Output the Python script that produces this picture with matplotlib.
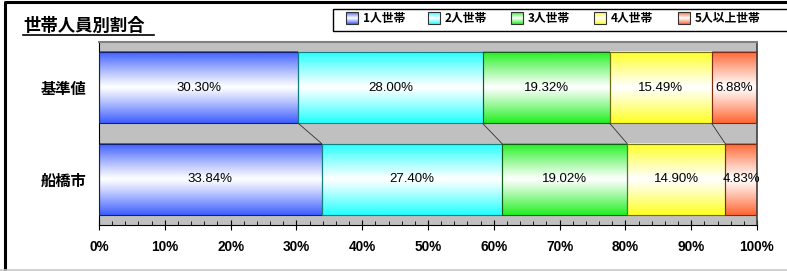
import numpy as np
import matplotlib
matplotlib.use('Agg')
from matplotlib import pyplot as plt
from matplotlib.patches import Rectangle
from matplotlib.colors import to_rgb

plt.rcParams['font.family'] = ['Noto Sans CJK JP', 'DejaVu Sans']

# データ
categories = ['基準値', '船橋市']
series = ['1人世帯', '2人世帯', '3人世帯', '4人世帯', '5人以上世帯']
kijun = [30.30, 28.00, 19.32, 15.49, 6.88]
funabashi = [33.84, 27.40, 19.02, 14.90, 4.83]
xticks = [0, 10, 20, 30, 40, 50, 60, 70, 80, 90, 100]
xtick_labels = ['0%', '10%', '20%', '30%', '40%', '50%', '60%', '70%', '80%', '90%', '100%']

colors = ['#3f5fff', '#22ffff', '#22f022', '#ffff22', '#ff6633']
edges = ['#102070', '#118080', '#116011', '#707011', '#802a10']

W, H = 787, 271


def gradient(color, n=64):
    # 上下が色、中央が白
    t = np.abs(np.linspace(-1, 1, n)) ** 1.1
    c = np.array(to_rgb(color))
    img = (1 - t)[:, None] * 1.0 + t[:, None] * c[None, :]
    return img[:, None, :]


fig = plt.figure(figsize=(W / 100, H / 100), dpi=100)
fig.patch.set_facecolor('white')

ax = fig.add_axes([99 / W, 1 - 225 / H, 658 / W, 183 / H])
ax.set_facecolor('#c0c0c0')

bar_h = 0.78
rows = [kijun, funabashi]
cums = []
for i, vals in enumerate(rows):
    total = sum(vals)
    left = 0.0
    bounds = []
    for j, v in enumerate(vals):
        w = v / total * 100
        top, bot = i - bar_h / 2, i + bar_h / 2
        ax.imshow(gradient(colors[j]), extent=(left, left + w, bot, top),
                  aspect='auto', interpolation='bilinear', zorder=2)
        ax.add_patch(Rectangle((left, top), w, bar_h, fill=False,
                               edgecolor=edges[j], lw=0.8, zorder=3))
        ax.text(left + w / 2, i, f'{v:.2f}%', ha='center', va='center',
                fontsize=9.5, family=['Liberation Sans', 'DejaVu Sans'], zorder=4)
        left += w
        bounds.append(left)
    cums.append(bounds)

# 系列線
for k in range(len(series) - 1):
    ax.plot([cums[0][k], cums[1][k]], [bar_h / 2, 1 - bar_h / 2],
            color='#303030', lw=0.6, zorder=3)

ax.set_xlim(0, 100)
ax.set_ylim(1.5, -0.5)

ax.set_xticks(xticks)
ax.set_xticklabels(xtick_labels, fontweight='bold', fontsize=9.8,
                   family=['Liberation Sans', 'DejaVu Sans'])
ax.set_xticks(np.arange(0, 101, 2), minor=True)
ax.tick_params(axis='x', which='major', direction='inout', length=7, width=0.8, pad=7)
ax.tick_params(axis='x', which='minor', direction='in', length=3, width=0.6)

ax.set_yticks([0, 1])
ax.set_yticklabels(categories, fontweight='bold', fontsize=11)
ax.tick_params(axis='y', length=0, pad=9)

ax.spines['left'].set_color('black')
ax.spines['bottom'].set_color('black')
ax.spines['top'].set_color('#808080')
ax.spines['top'].set_linewidth(1.5)
ax.spines['right'].set_color('#404040')
ax.spines['right'].set_linewidth(1.2)

# 枠・タイトル・凡例 (ピクセル座標)
ov = fig.add_axes([0, 0, 1, 1])
ov.axis('off')
ov.patch.set_alpha(0)

ov.plot([5, 5, W], [H, 1.5, 1.5], color='black', lw=2.2, solid_capstyle='butt')
ov.plot([0, W], [269.5, 269.5], color='#c8c8c8', lw=1.2)

ov.text(23, 31, '世帯人員別割合', fontsize=12.5, fontweight='bold', va='baseline', ha='left')
ov.plot([23, 154], [35, 35], color='black', lw=1.2)

ov.add_patch(Rectangle((333, 9), 470, 22, facecolor='white', edgecolor='black', lw=1.0, zorder=2))
sw_x = [346, 428, 511, 594, 678]
for j, name in enumerate(series):
    x = sw_x[j]
    ov.imshow(gradient(colors[j]), extent=(x, x + 12, 24, 12), aspect='auto',
              interpolation='bilinear', zorder=3)
    ov.add_patch(Rectangle((x, 12), 12, 12, fill=False, edgecolor='#333333', lw=0.8, zorder=4))
    ov.text(x + 17, 18.5, name, fontsize=8.5, fontweight='bold', va='center', ha='left', zorder=4)
ov.set_xlim(0, W)
ov.set_ylim(H, 0)

fig.savefig('out.png', dpi=100)
